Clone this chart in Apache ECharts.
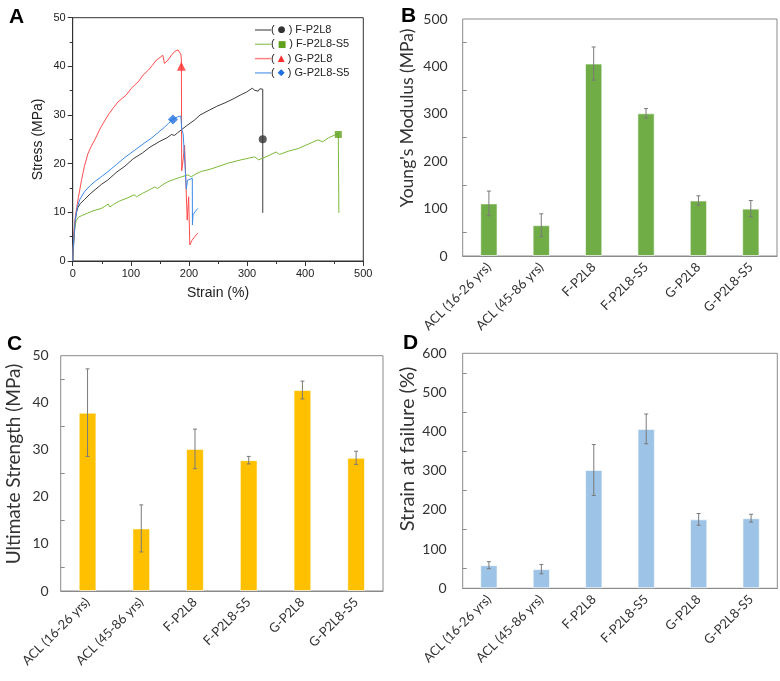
<!DOCTYPE html>
<html><head><meta charset="utf-8">
<script src="https://cdn.jsdelivr.net/npm/echarts@6/dist/echarts.min.js"></script>
<style>html,body{margin:0;padding:0;background:#fff}#c{width:780px;height:681px}</style>
</head><body><div id="c"></div>
<script>
// ---------- Panel A: stress-strain curves ----------
const curveNames = ['F-P2L8', 'F-P2L8-S5', 'G-P2L8', 'G-P2L8-S5'];
const curveFP2L8 = [[0,0],[2,4],[4,7.5],[6,9.8],[9,11],[13,11.8],[20,12.6],[30,13.8],[40,14.8],[50,15.8],[60,16.6],[76,18.3],[90,19.5],[104,21],[120,22.2],[133,23.4],[150,24.6],[162,25.3],[170,26],[175,25.8],[180,26.3],[196,27.8],[210,29],[219,30],[235,31],[248,31.8],[262,32.5],[276,33.3],[290,34.2],[299,34.7],[305,35.2],[309,35.5],[313,35.1],[316,35.2],[319,34.9],[322,35.4],[327,35.3],[327,9.9]];
const curveFP2L8S5 = [[0,0],[1,3],[3,6.5],[6,8.3],[10,9],[15,9.3],[25,9.8],[35,10.3],[49,10.8],[55,11.2],[61,11.7],[64,11.1],[70,11.6],[80,12.3],[95,13],[106,13.6],[110,13.2],[120,13.9],[130,14.5],[141,15.2],[146,14.9],[155,15.7],[164,16.3],[175,16.8],[185,17.2],[198,17.7],[204,17.3],[212,17.9],[221,18.4],[235,18.8],[250,19.4],[267,20.1],[290,20.8],[313,21.4],[320,20.8],[336,21.6],[350,22.4],[356,21.9],[372,22.6],[388,23.1],[405,24],[422,24.9],[430,24.5],[440,25.3],[451,25.9],[457,26.2],[458,9.9]];
const curveGP2L8 = [[0,0],[1,3],[2,6],[4,8.5],[7,11],[10,13.2],[15,16.5],[20,19.4],[26,22],[32,23.6],[38,24.9],[46,26.9],[49,27.6],[61,30],[70,31.5],[78,32.7],[92,34.1],[101,35.5],[107,36.2],[114,37],[121,38.2],[130,39.2],[137,40.2],[144,41.3],[150,41.8],[155,42.3],[158,40.6],[164,41.3],[170,42.3],[175,43],[178,42.6],[181,43.4],[184,43.3],[186,42.5],[187,41.5],[187.5,18.5],[190,20.8],[192.5,23.8],[195.5,23.5],[197,8.4],[199.5,13.2],[201.5,3.3],[205,4.2],[210,5],[215,5.7]];
const curveGP2L8S5 = [[0,0],[1,3],[3,6.5],[5,9],[8,11],[12,12.6],[20,14.2],[30,15.5],[40,16.5],[49,17.3],[60,18.3],[75,19.8],[90,21.3],[107,22.8],[124,24.3],[135,25.2],[147,26.4],[158,27.5],[165,28.3],[172.5,29.1],[181,29.65],[186,29.8],[187.5,29.7],[187.8,26.9],[190,26.2],[191.5,25.9],[192.5,25.9],[193,20.1],[194,18],[195.5,14.8],[197.5,16.6],[205.8,17],[206,7.4],[207,9.5],[211,10.2],[215,10.8]];
const failureStrain = [327, 457, 187, 172.5];
const failureStress = [25, 26, 40, 29.1];

// ---------- Panels B, C, D: bar charts ----------
const groups = ['ACL (16-26 yrs)', 'ACL (45-86 yrs)', 'F-P2L8', 'F-P2L8-S5', 'G-P2L8', 'G-P2L8-S5'];
const modulusMean = [111, 65, 406, 301, 117, 100];
const modulusSD = [26, 24, 35, 10, 10, 17];
const strengthMean = [37.9, 13.3, 30.2, 27.8, 42.7, 28.3];
const strengthSD = [9.3, 5.0, 4.2, 0.8, 1.9, 1.4];
const strainMean = [59, 49, 302, 407, 176, 179];
const strainSD = [9, 12, 65, 38, 15, 10];

const curves = [curveFP2L8, curveFP2L8S5, curveGP2L8, curveGP2L8S5];
const lineColors = ['#3c3c3c', '#7cb93a', '#ff4d4d', '#3b8ae6'];
const markColors = ['#333333', '#5fa11c', '#ff3030', '#1f6fe0'];
const markShapes = ['circle', 'rect', 'triangle', 'diamond'];
const markSizes = [8, 7, 9, 10];
const glyphs = ['\u25CF', '\u25A0', '\u25B2', '\u25C6'];

const chart = echarts.init(document.getElementById('c'), null, {renderer: 'canvas'});
const XL = 'Lato';
const AR = 'Liberation Sans';

function errRender(params, api) {
  const x = api.value(0);
  const lo = api.coord([x, api.value(1)]);
  const hi = api.coord([x, api.value(2)]);
  const c = '#7a7a7a', w = 2;
  return {type: 'group', children: [
    {type: 'line', shape: {x1: lo[0], y1: lo[1], x2: hi[0], y2: hi[1]}, style: {stroke: c, lineWidth: 1}},
    {type: 'line', shape: {x1: lo[0]-w, y1: lo[1], x2: lo[0]+w, y2: lo[1]}, style: {stroke: c, lineWidth: 1}},
    {type: 'line', shape: {x1: hi[0]-w, y1: hi[1], x2: hi[0]+w, y2: hi[1]}, style: {stroke: c, lineWidth: 1}}
  ]};
}
function errData(mean, sd) { return mean.map((m, i) => [i, m - sd[i], m + sd[i]]); }

function barX(idx) {
  return {type: 'category', gridIndex: idx, data: groups, boundaryGap: true,
    axisLine: {show: true, lineStyle: {color: '#8a8a8a', width: 1}},
    axisTick: {show: false},
    axisLabel: {rotate: 45, fontFamily: XL, fontSize: 13, color: '#333', margin: 9, interval: 0}};
}
function barY(idx, max, interval, margin) {
  return {type: 'value', gridIndex: idx, min: 0, max: max, interval: interval,
    axisLine: {show: false}, axisTick: {show: false, inside: true},
    minorTick: {show: true, splitNumber: 2, length: 4, lineStyle: {color: '#8a8a8a'}},
    splitLine: {show: false},
    axisLabel: {fontFamily: XL, fontSize: 14, color: '#333', margin: margin}};
}
function vTitle(text, x, y, size) {
  return {type: 'text', x: x, y: y, rotation: Math.PI / 2, silent: true,
    style: {text: text, fontFamily: XL, fontSize: size, fill: '#333', textAlign: 'center', textVerticalAlign: 'middle',
      align: 'center', verticalAlign: 'middle'}};
}

const series = [];
curves.forEach((d, i) => {
  series.push({type: 'line', name: curveNames[i], xAxisIndex: 0, yAxisIndex: 0, data: d,
    showSymbol: false, symbol: 'none', lineStyle: {color: lineColors[i], width: 1}, itemStyle: {color: lineColors[i]},
    animation: false, z: 2 + i});
});
curves.forEach((d, i) => {
  series.push({type: 'scatter', name: curveNames[i], xAxisIndex: 0, yAxisIndex: 0,
    data: [[failureStrain[i], failureStress[i]]], symbol: markShapes[i], symbolSize: markSizes[i],
    itemStyle: {color: markColors[i]}, animation: false, z: 10});
});
const barSets = [
  {g: 1, mean: modulusMean, sd: modulusSD, color: '#70ad47'},
  {g: 2, mean: strengthMean, sd: strengthSD, color: '#ffc000'},
  {g: 3, mean: strainMean, sd: strainSD, color: '#9dc3e6'}
];
barSets.forEach(b => {
  series.push({type: 'bar', xAxisIndex: b.g, yAxisIndex: b.g, data: b.mean, barWidth: '33%',
    itemStyle: {color: b.color, borderColor: 'rgba(255,255,255,0.6)', borderWidth: 1}, animation: false});
  series.push({type: 'custom', xAxisIndex: b.g, yAxisIndex: b.g, data: errData(b.mean, b.sd),
    renderItem: errRender, z: 5, animation: false});
});

const rich = {p: {fontFamily: AR, fontSize: 11, color: '#222', lineHeight: 14}};
glyphs.forEach((g, i) => { rich['g' + i] = {fontFamily: 'DejaVu Sans', fontSize: 9, color: markColors[i], lineHeight: 14}; });

chart.setOption({
  backgroundColor: '#fff',
  animation: false,
  title: [
    {text: 'A', left: 4, top: 2, textStyle: {fontFamily: AR, fontWeight: 'bold', fontSize: 21, color: '#000'}},
    {text: 'B', left: 396, top: 1, textStyle: {fontFamily: AR, fontWeight: 'bold', fontSize: 21, color: '#000'}},
    {text: 'C', left: 2, top: 329, textStyle: {fontFamily: AR, fontWeight: 'bold', fontSize: 21, color: '#000'}},
    {text: 'D', left: 398, top: 328, textStyle: {fontFamily: AR, fontWeight: 'bold', fontSize: 21, color: '#000'}}
  ],
  legend: {
    data: curveNames, orient: 'vertical', left: 250, top: 18, itemGap: 0.3,
    icon: 'rect', itemWidth: 16, itemHeight: 1.5,
    itemStyle: {opacity: 0.7},
    formatter: name => { const i = curveNames.indexOf(name); return '{p|( }{g' + i + '|' + glyphs[i] + '}{p| ) ' + name + '}'; },
    textStyle: {fontFamily: AR, fontSize: 11, lineHeight: 14, color: '#222', rich: rich, padding: [0, 0, 0, -5]}
  },
  graphic: [
    vTitle("Young's Modulus (MPa)", 407, 118, 17.5),
    vTitle('Ultimate Strength (MPa)', 14, 464, 19),
    vTitle('Strain at failure (%)', 408, 449, 20)
  ],
  grid: [
    {left: 72.7, top: 17.7, width: 290.6, height: 243.3, show: true, borderColor: '#333', borderWidth: 1},
    {left: 462.7, top: 19, width: 314.3, height: 237, show: true, borderColor: '#8a8a8a', borderWidth: 1},
    {left: 60.7, top: 355.7, width: 322.3, height: 235.3, show: true, borderColor: '#8a8a8a', borderWidth: 1},
    {left: 462.7, top: 353.3, width: 314.6, height: 235, show: true, borderColor: '#8a8a8a', borderWidth: 1}
  ],
  xAxis: [
    {type: 'value', gridIndex: 0, min: 0, max: 500, interval: 100,
      name: 'Strain (%)', nameLocation: 'middle', nameGap: 25,
      nameTextStyle: {fontFamily: AR, fontSize: 14, color: '#222'},
      axisLine: {lineStyle: {color: '#333'}}, axisTick: {length: 5, lineStyle: {color: '#333'}},
      minorTick: {show: true, splitNumber: 2, length: 3, lineStyle: {color: '#333'}},
      splitLine: {show: false}, axisLabel: {fontFamily: AR, fontSize: 11, color: '#222', margin: 7}},
    barX(1), barX(2), barX(3)
  ],
  yAxis: [
    {type: 'value', gridIndex: 0, min: 0, max: 50, interval: 10,
      name: 'Stress (MPa)', nameLocation: 'middle', nameGap: 28, nameRotate: 90,
      nameTextStyle: {fontFamily: AR, fontSize: 14, color: '#222'},
      axisLine: {show: true, lineStyle: {color: '#333'}}, axisTick: {length: 5, lineStyle: {color: '#333'}},
      minorTick: {show: true, splitNumber: 2, length: 3, lineStyle: {color: '#333'}},
      splitLine: {show: false}, axisLabel: {fontFamily: AR, fontSize: 11, color: '#222', margin: 7}},
    barY(1, 500, 100, 15),
    barY(2, 50, 10, 12),
    barY(3, 600, 100, 16)
  ],
  series: series
});
</script></body></html>
